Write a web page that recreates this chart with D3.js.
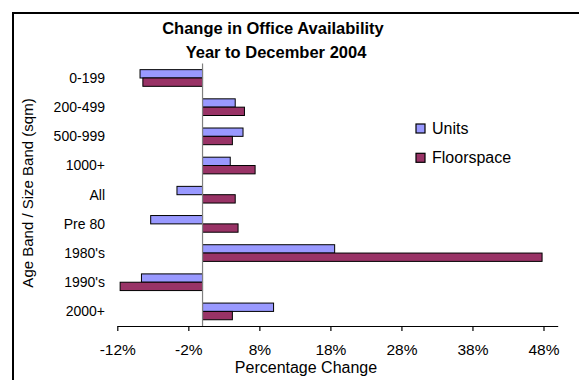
<!DOCTYPE html>
<html>
<head>
<meta charset="utf-8">
<script src="https://cdn.jsdelivr.net/npm/d3@7"></script>
<style>
  html, body { margin: 0; padding: 0; background: #fff; }
  svg { display: block; font-family: "Liberation Sans", Arial, sans-serif; }
</style>
</head>
<body>
<svg id="chart" width="579" height="380"></svg>
<script>
// Age / size bands and percentage change for each series
const categories = ["0-199", "200-499", "500-999", "1000+", "All", "Pre 80", "1980's", "1990's", "2000+"];
const units      = [-8.8, 4.6, 5.7, 3.9, -3.6, -7.3, 18.6, -8.6, 10.0];
const floorspace = [-8.4, 5.9, 4.2, 7.4, 4.6, 5.0, 47.8, -11.6, 4.2];
const seriesNames = ["Units", "Floorspace"];
const tickValues = [-12, -2, 8, 18, 28, 38, 48];

const colors = { Units: "#9999FF", Floorspace: "#993366" };

const svg = d3.select("#chart");

// outer chart frame (runs off the right and bottom edges)
svg.append("rect")
  .attr("x", 13).attr("y", 13)
  .attr("width", 700).attr("height", 500)
  .attr("fill", "#fff").attr("stroke", "#000").attr("stroke-width", 2);

const x = d3.scaleLinear().domain([-12, 50]).range([117.3, 557.7]);
const y = d3.scaleBand().domain(categories).range([63.4, 326]).padding(0);

// Excel-style gap width 150%: band = 3.5 bar widths
const bw = y.bandwidth() / 3.5;
const rows = categories.map((c, i) => ({ cat: c, Units: units[i], Floorspace: floorspace[i] }));

const g = svg.append("g");

seriesNames.forEach((s, si) => {
  g.selectAll(".bar-" + s)
    .data(rows)
    .join("rect")
    .attr("class", "bar-" + s)
    .attr("x", d => x(Math.min(0, d[s])))
    .attr("width", d => Math.abs(x(d[s]) - x(0)))
    .attr("y", d => y(d.cat) + 0.75 * bw + si * bw)
    .attr("height", bw)
    .attr("fill", colors[s])
    .attr("stroke", "#000")
    .attr("stroke-width", 1);
});

// zero line
svg.append("line")
  .attr("x1", x(0)).attr("x2", x(0))
  .attr("y1", 63.4).attr("y2", 326)
  .attr("stroke", "#808080").attr("stroke-width", 1.2);

// x axis
const xAxis = d3.axisBottom(x)
  .tickValues(tickValues)
  .tickSize(5)
  .tickSizeOuter(0)
  .tickFormat(d => d + "%");
const ax = svg.append("g").attr("transform", "translate(0,326)").call(xAxis);
ax.select(".domain").attr("stroke", "#000").attr("stroke-width", 1.2);
ax.selectAll(".tick line").attr("stroke", "#000").attr("stroke-width", 1.2);
ax.selectAll(".tick text")
  .attr("fill", "#000")
  .attr("font-size", 15.5)
  .attr("font-family", "Liberation Sans, Arial, sans-serif")
  .attr("y", 29).attr("dy", 0);

// category labels
svg.append("g").selectAll("text")
  .data(categories)
  .join("text")
  .attr("x", 105)
  .attr("y", d => y(d) + y.bandwidth() / 2)
  .attr("dy", "0.35em")
  .attr("text-anchor", "end")
  .attr("font-size", 14)
  .attr("fill", "#000")
  .text(d => d);

// titles
svg.append("text")
  .attr("x", 273).attr("y", 34)
  .attr("text-anchor", "middle")
  .attr("font-size", 16.5).attr("font-weight", "bold")
  .text("Change in Office Availability");
svg.append("text")
  .attr("x", 276).attr("y", 58)
  .attr("text-anchor", "middle")
  .attr("font-size", 16.5).attr("font-weight", "bold")
  .text("Year to December 2004");

svg.append("text")
  .attr("x", 306).attr("y", 373)
  .attr("text-anchor", "middle")
  .attr("font-size", 16)
  .text("Percentage Change");

svg.append("text")
  .attr("transform", "translate(33,193) rotate(-90)")
  .attr("text-anchor", "middle")
  .attr("font-size", 15)
  .text("Age Band / Size Band (sqm)");

// legend
const legend = svg.append("g");
seriesNames.forEach((s, i) => {
  const ly = 124 + i * 29.3;
  legend.append("rect")
    .attr("x", 416).attr("y", ly)
    .attr("width", 9).attr("height", 9)
    .attr("fill", colors[s]).attr("stroke", "#000").attr("stroke-width", 1.2);
  legend.append("text")
    .attr("x", 432).attr("y", ly + 4.5)
    .attr("dy", "0.35em")
    .attr("font-size", 16)
    .text(s);
});
</script>
</body>
</html>
